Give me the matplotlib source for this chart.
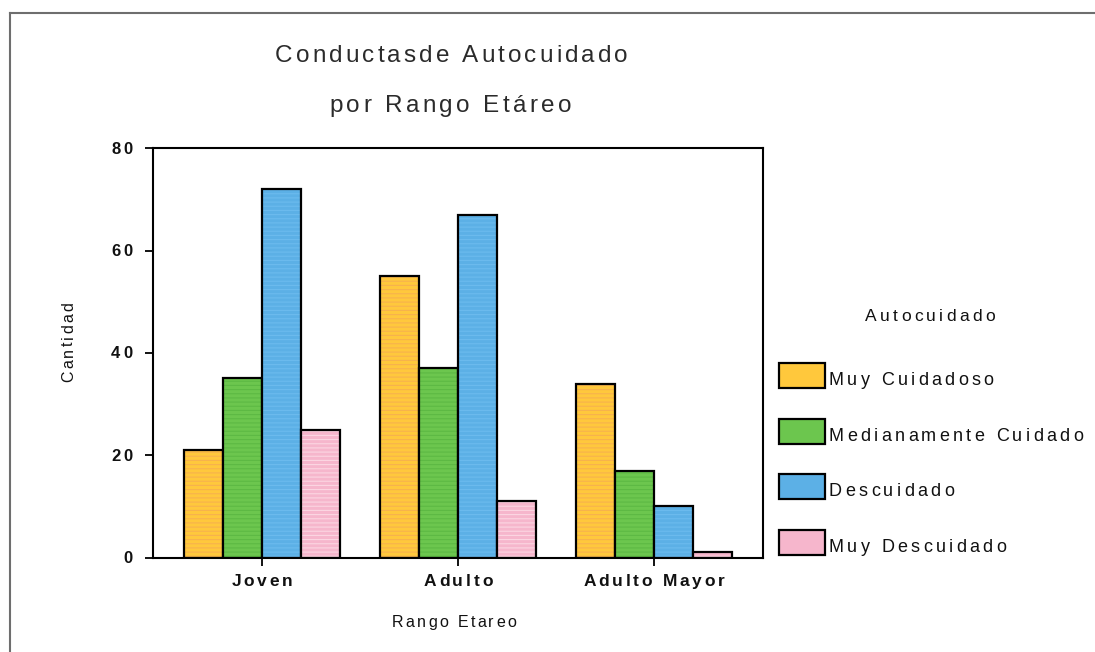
import numpy as np
import matplotlib
matplotlib.use("Agg")
import matplotlib.pyplot as plt
from matplotlib import font_manager
from matplotlib.ft2font import FT2Font
from matplotlib.patches import Rectangle
from matplotlib.lines import Line2D

W, H, DPI = 1095, 652, 100
FONT = "Liberation Sans"

categories = ["Joven", "Adulto", "Adulto Mayor"]
series = ["Muy Cuidadoso", "Medianamente Cuidado", "Descuidado", "Muy Descuidado"]
muy_cuidadoso = [21, 55, 34]
medianamente = [35, 37, 17]
descuidado = [72, 67, 10]
muy_descuidado = [25, 11, 1]
yticks = [0, 20, 40, 60, 80]

fills = ["#FFC83C", "#6CC64E", "#5CB0E6", "#F6B6CC"]
stripes = ["#F7B24E", "#5DB944", "#6CBBEE", "#FCD6E2"]

fig = plt.figure(figsize=(W / DPI, H / DPI), dpi=DPI)
fig.patch.set_facecolor("white")


def advances(s, size, weight):
    path = font_manager.findfont(font_manager.FontProperties(family=FONT, weight=weight))
    ft = FT2Font(path)
    ft.set_size(size, DPI)
    return [ft.load_char(ord(c)).linearHoriAdvance / 65536 for c in s]


def spaced(x, y, s, size, gap, ha="center", weight="normal", color="#111111", vertical=False):
    # letter-spaced text, x/y in pixels from the top-left corner, y is the baseline
    adv = advances(s, size, weight)
    total = sum(adv) + gap * (len(s) - 1)
    pos = -{"left": 0, "center": total / 2, "right": total}[ha]
    for c, a in zip(s, adv):
        if c != " ":
            if vertical:
                fx, fy, rot = x / W, 1 - (y - pos) / H, 90
            else:
                fx, fy, rot = (x + pos) / W, 1 - y / H, 0
            fig.text(fx, fy, c, family=FONT, size=size, weight=weight, color=color,
                     ha="left", va="baseline", rotation=rot, rotation_mode="anchor")
        pos += a + gap


ax = fig.add_axes([153 / W, 1 - 557.5 / H, 610 / W, 409.2 / H])
x = np.arange(len(categories))
bw = 0.2
plt.rcParams["hatch.linewidth"] = 0.8
for k, vals in enumerate([muy_cuidadoso, medianamente, descuidado, muy_descuidado]):
    xs = x + (k - 1.5) * bw
    ax.bar(xs, vals, bw, color=fills[k], edgecolor=stripes[k], hatch="----", linewidth=0)
    ax.bar(xs, vals, bw, fill=False, edgecolor="black", linewidth=1.6)

ax.set_xlim(-0.556, 2.556)
ax.set_ylim(0, 80)
ax.set_xticks(x)
ax.set_yticks(yticks)
ax.set_xticklabels([])
ax.set_yticklabels([])
ax.tick_params(direction="out", length=5.5, width=1.3, colors="black")
for sp in ax.spines.values():
    sp.set_linewidth(1.5)
    sp.set_color("black")

# tick labels placed from the axes transform
for i, cat in enumerate(categories):
    px = ax.transData.transform((i, 0))[0]
    spaced(px, 586, cat, 12.5, 2.8, weight="bold")
for v in yticks:
    py = H - ax.transData.transform((0, v))[1]
    spaced(133, py + 5.5, str(v), 12, 3.5, ha="right", weight="bold")

# titles and axis labels
spaced(451.5, 61.7, "Conductasde Autocuidado", 17.5, 3.1, color="#2b2b2b")
spaced(450.5, 112, "por Rango Etáreo", 17.5, 3.4, color="#2b2b2b")
spaced(454, 627, "Rango Etareo", 11.5, 2.3)
spaced(73, 342, "Cantidad", 11.5, 2.3, vertical=True)

# legend
spaced(930, 321, "Autocuidado", 12.5, 3.3)
for k, name in enumerate(series):
    base = 385 + k * 55.7
    fig.add_artist(Rectangle((779 / W, 1 - (base + 3) / H), 46 / W, 25 / H,
                             transform=fig.transFigure, facecolor=fills[k],
                             edgecolor="black", linewidth=1.6))
    spaced(829, base, name, 13, 3.3, ha="left")

# outer frame
fig.add_artist(Line2D([9.5 / W, 1], [1 - 13 / H, 1 - 13 / H], transform=fig.transFigure,
                      color="#6e6e6e", linewidth=1.5))
fig.add_artist(Line2D([9.5 / W, 9.5 / W], [0, 1 - 13 / H], transform=fig.transFigure,
                      color="#6e6e6e", linewidth=1.5))

fig.savefig("out.png", dpi=DPI)
